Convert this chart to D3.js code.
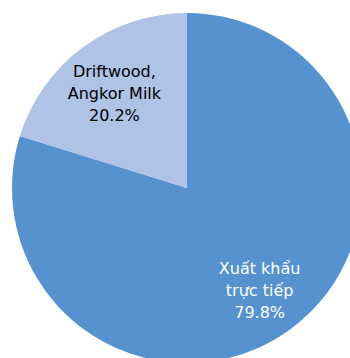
<!DOCTYPE html>
<html>
<head>
<meta charset="utf-8">
<script src="https://cdn.jsdelivr.net/npm/d3@7"></script>
<style>
  html, body { margin: 0; padding: 0; background: #fff; }
  svg { display: block; }
</style>
</head>
<body>
<div id="chart"></div>
<script>
/* --------------------------------------------------------------
DATOS
-------------------------------------------------------------- */
const categories = ["Xuất khẩu trực tiếp", "Driftwood, Angkor Milk"];
const labelLines = [["Xuất khẩu", "trực tiếp"], ["Driftwood,", "Angkor Milk"]];
const values = [79.8, 20.2];
const colors = ["#5592cf", "#aec3e6"];
const textColors = ["#ffffff", "#000000"];

/* --------------------------------------------------------------
PIE
-------------------------------------------------------------- */
const width = 350, height = 358;
const cx = 187, cy = 188, radius = 175;

const svg = d3.select("#chart").append("svg")
    .attr("width", width)
    .attr("height", height);

const g = svg.append("g").attr("transform", `translate(${cx},${cy})`);

const pie = d3.pie().sort(null).value(d => d)(values);
const arc = d3.arc().innerRadius(0).outerRadius(radius);
const labelArc = d3.arc().innerRadius(radius * 0.7).outerRadius(radius * 0.7);

g.selectAll("path")
    .data(pie)
    .enter()
    .append("path")
    .attr("d", arc)
    .attr("fill", (d, i) => colors[i]);

const fmt = d3.format(".1f");

const labels = g.selectAll("text.lbl")
    .data(pie)
    .enter()
    .append("text")
    .attr("class", "lbl")
    .attr("transform", d => `translate(${labelArc.centroid(d)})`)
    .attr("text-anchor", "middle")
    .attr("font-family", "'DejaVu Sans', Verdana, sans-serif")
    .attr("font-size", "16px")
    .attr("fill", (d, i) => textColors[i]);

labels.each(function (d, i) {
    const lines = labelLines[i].concat([fmt(values[i]) + "%"]);
    const t = d3.select(this);
    lines.forEach((s, k) => {
        t.append("tspan")
            .attr("x", 0)
            .attr("y", (k - 1) * 22 + 9.5)
            .text(s);
    });
});
</script>
</body>
</html>
